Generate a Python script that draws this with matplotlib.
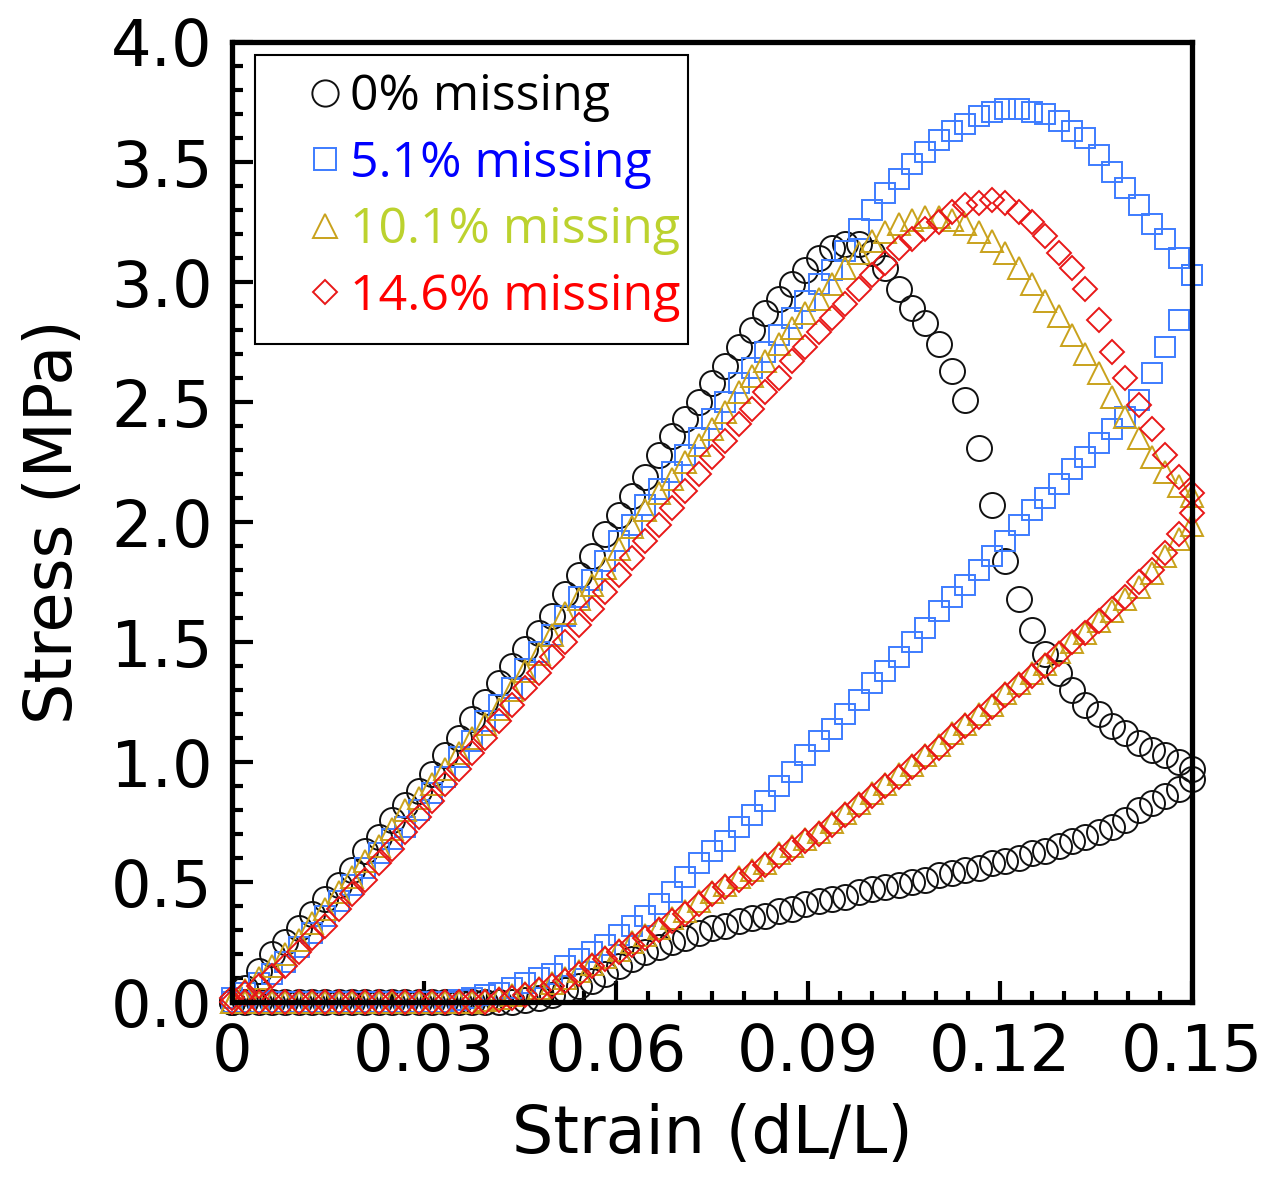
import numpy as np
import matplotlib
matplotlib.use("Agg")
import matplotlib.pyplot as plt
from matplotlib.lines import Line2D
from matplotlib.patches import Rectangle
from matplotlib.ticker import MultipleLocator, FixedLocator

# strain grid (73 samples, 0 -> 0.15) shared by every branch
strain = np.linspace(0, 0.15, 73)

# stress (MPa), loading branch
load_0 = [0.00, 0.06, 0.13, 0.20, 0.25, 0.31, 0.37, 0.43, 0.49, 0.55,
          0.63, 0.69, 0.76, 0.82, 0.88, 0.95, 1.03, 1.10, 1.18, 1.25,
          1.33, 1.40, 1.47, 1.54, 1.61, 1.70, 1.78, 1.86, 1.95, 2.03,
          2.11, 2.19, 2.28, 2.36, 2.43, 2.50, 2.58, 2.65, 2.73, 2.80,
          2.87, 2.93, 2.99, 3.05, 3.10, 3.14, 3.16, 3.16, 3.12, 3.06,
          2.97, 2.89, 2.83, 2.74, 2.63, 2.51, 2.31, 2.07, 1.84, 1.68,
          1.55, 1.45, 1.37, 1.30, 1.24, 1.20, 1.15, 1.12, 1.08, 1.05,
          1.03, 1.00, 0.97]
load_5 = [0.02, 0.04, 0.08, 0.12, 0.17, 0.23, 0.29, 0.36, 0.42, 0.49,
          0.56, 0.62, 0.68, 0.73, 0.80, 0.87, 0.94, 1.02, 1.09, 1.17,
          1.24, 1.31, 1.39, 1.46, 1.53, 1.61, 1.69, 1.76, 1.84, 1.92,
          1.99, 2.07, 2.14, 2.21, 2.28, 2.35, 2.43, 2.50, 2.58, 2.64,
          2.71, 2.78, 2.85, 2.92, 2.99, 3.05, 3.13, 3.22, 3.30, 3.37,
          3.43, 3.49, 3.54, 3.59, 3.63, 3.66, 3.69, 3.71, 3.72, 3.72,
          3.71, 3.70, 3.67, 3.63, 3.60, 3.53, 3.46, 3.39, 3.32, 3.24,
          3.18, 3.10, 3.03]
load_10 = [0.00, 0.05, 0.10, 0.15, 0.20, 0.26, 0.33, 0.39, 0.46, 0.52,
           0.59, 0.65, 0.72, 0.80, 0.85, 0.91, 0.97, 1.04, 1.10, 1.16,
           1.22, 1.30, 1.38, 1.45, 1.53, 1.62, 1.68, 1.74, 1.81, 1.89,
           1.98, 2.05, 2.12, 2.18, 2.25, 2.32, 2.39, 2.46, 2.54, 2.61,
           2.67, 2.74, 2.81, 2.87, 2.93, 2.99, 3.06, 3.12, 3.17, 3.21,
           3.24, 3.26, 3.27, 3.27, 3.26, 3.24, 3.21, 3.17, 3.12, 3.06,
           2.99, 2.92, 2.86, 2.78, 2.70, 2.62, 2.52, 2.44, 2.35, 2.27,
           2.21, 2.15, 2.11]
load_14 = [0.02, 0.04, 0.07, 0.11, 0.15, 0.21, 0.27, 0.32, 0.39, 0.45,
           0.51, 0.58, 0.64, 0.71, 0.77, 0.84, 0.91, 0.97, 1.04, 1.10,
           1.17, 1.24, 1.31, 1.37, 1.44, 1.50, 1.57, 1.64, 1.71, 1.78,
           1.85, 1.92, 1.99, 2.06, 2.13, 2.20, 2.27, 2.34, 2.41, 2.47,
           2.54, 2.60, 2.67, 2.73, 2.79, 2.85, 2.91, 2.97, 3.03, 3.08,
           3.14, 3.18, 3.22, 3.25, 3.29, 3.32, 3.33, 3.34, 3.33, 3.29,
           3.25, 3.19, 3.12, 3.06, 2.97, 2.84, 2.71, 2.60, 2.49, 2.39,
           2.28, 2.19, 2.12]

# stress (MPa), unloading branch, same strain grid (ascending strain)
unload_0 = [0.00, 0.00, 0.00, 0.00, 0.00, 0.00, 0.00, 0.00, 0.00, 0.00,
            0.00, 0.00, 0.00, 0.00, 0.00, 0.00, 0.00, 0.00, 0.00, 0.00,
            0.00, 0.00, 0.01, 0.02, 0.03, 0.05, 0.07, 0.09, 0.12, 0.15,
            0.18, 0.21, 0.23, 0.25, 0.27, 0.29, 0.31, 0.32, 0.34, 0.35,
            0.36, 0.38, 0.39, 0.41, 0.42, 0.43, 0.44, 0.46, 0.47, 0.48,
            0.49, 0.50, 0.51, 0.53, 0.54, 0.55, 0.56, 0.58, 0.59, 0.60,
            0.62, 0.63, 0.65, 0.67, 0.69, 0.71, 0.73, 0.76, 0.80, 0.83,
            0.86, 0.89, 0.93]
unload_5 = [0.00, 0.00, 0.00, 0.00, 0.00, 0.00, 0.00, 0.00, 0.00, 0.00,
            0.00, 0.00, 0.00, 0.00, 0.00, 0.00, 0.00, 0.01, 0.02, 0.03,
            0.04, 0.06, 0.08, 0.10, 0.12, 0.15, 0.18, 0.21, 0.24, 0.28,
            0.32, 0.36, 0.41, 0.46, 0.52, 0.58, 0.63, 0.67, 0.73, 0.78,
            0.84, 0.90, 0.96, 1.03, 1.09, 1.14, 1.20, 1.26, 1.33, 1.38,
            1.44, 1.50, 1.56, 1.63, 1.69, 1.74, 1.80, 1.86, 1.92, 1.99,
            2.05, 2.10, 2.16, 2.22, 2.27, 2.33, 2.39, 2.44, 2.51, 2.62,
            2.73, 2.84, 3.03]
unload_10 = [0.00, 0.00, 0.00, 0.00, 0.00, 0.00, 0.00, 0.00, 0.00, 0.00,
             0.00, 0.00, 0.00, 0.00, 0.00, 0.00, 0.00, 0.00, 0.00, 0.01,
             0.02, 0.03, 0.04, 0.06, 0.08, 0.10, 0.13, 0.16, 0.19, 0.22,
             0.25, 0.28, 0.31, 0.35, 0.38, 0.42, 0.46, 0.49, 0.52, 0.55,
             0.58, 0.62, 0.65, 0.68, 0.71, 0.75, 0.79, 0.83, 0.87, 0.91,
             0.95, 0.99, 1.03, 1.07, 1.12, 1.16, 1.20, 1.24, 1.29, 1.33,
             1.37, 1.41, 1.46, 1.50, 1.54, 1.59, 1.63, 1.68, 1.73, 1.79,
             1.86, 1.93, 1.99]
unload_14 = [0.00, 0.00, 0.00, 0.00, 0.00, 0.00, 0.00, 0.00, 0.00, 0.00,
             0.00, 0.00, 0.00, 0.00, 0.00, 0.00, 0.00, 0.00, 0.00, 0.00,
             0.01, 0.02, 0.03, 0.05, 0.07, 0.09, 0.12, 0.15, 0.18, 0.21,
             0.24, 0.27, 0.30, 0.34, 0.37, 0.41, 0.45, 0.48, 0.51, 0.54,
             0.57, 0.61, 0.64, 0.67, 0.70, 0.74, 0.78, 0.82, 0.86, 0.90,
             0.94, 0.98, 1.02, 1.06, 1.11, 1.15, 1.19, 1.23, 1.28, 1.32,
             1.36, 1.40, 1.45, 1.50, 1.54, 1.59, 1.64, 1.69, 1.75, 1.80,
             1.87, 1.95, 2.04]

labels = ["0% missing", "5.1% missing", "10.1% missing", "14.6% missing"]
markers = ["o", "s", "^", "D"]
msizes = [18, 15, 16, 12]
mcolors = ["#111111", "#3d7cff", "#c9a21c", "#e81818"]
tcolors = ["#000000", "#0000ff", "#bcd22e", "#ff0000"]

fig = plt.figure(figsize=(12.68, 11.82), dpi=100)
ax = fig.add_axes([0.183, 0.152, 0.757, 0.8125])

series = [(load_0, unload_0), (load_5, unload_5),
          (load_10, unload_10), (load_14, unload_14)]
for (ld, ul), m, ms, c in zip(series, markers, msizes, mcolors):
    for y in (ld, ul):
        ax.plot(strain, y, linestyle="none", marker=m, markersize=ms,
                markerfacecolor="none", markeredgecolor=c,
                markeredgewidth=1.4, clip_on=False)

ax.set_xlim(0, 0.15)
ax.set_ylim(0, 4.0)
ax.xaxis.set_major_locator(FixedLocator([0, 0.03, 0.06, 0.09, 0.12, 0.15]))
ax.set_xticklabels(["0", "0.03", "0.06", "0.09", "0.12", "0.15"])
ax.xaxis.set_minor_locator(MultipleLocator(0.005))
ax.yaxis.set_major_locator(MultipleLocator(0.5))
ax.yaxis.set_minor_locator(MultipleLocator(0.1))
ax.yaxis.set_major_formatter(matplotlib.ticker.FormatStrFormatter("%.1f"))

ax.tick_params(which="both", direction="in", width=3, top=False, right=False,
               labelsize=46, colors="black")
ax.tick_params(which="major", length=15, pad=14)
ax.tick_params(which="minor", length=8)
for sp in ax.spines.values():
    sp.set_linewidth(3.8)

ax.set_xlabel("Strain (dL/L)", fontsize=47, labelpad=14)
ax.set_ylabel("Stress (MPa)", fontsize=47, labelpad=18)

# legend box drawn separately so its padding can match the original
ax.add_patch(Rectangle((0.024, 0.686), 0.451, 0.300, transform=ax.transAxes,
                       facecolor="white", edgecolor="black", linewidth=1.5,
                       zorder=4))
handles = [Line2D([], [], linestyle="none", marker=m, markersize=ms * 1.05,
                  markerfacecolor="none", markeredgecolor=c, markeredgewidth=1.4)
           for m, ms, c in zip(markers, msizes, mcolors)]
leg = ax.legend(handles, labels, loc="upper left", bbox_to_anchor=(0.081, 0.968),
                prop={"family": "Open Sans", "size": 36}, frameon=False,
                handlelength=0.6, handletextpad=0.2, labelspacing=0.34,
                borderpad=0, borderaxespad=0)
leg.set_zorder(5)
for t, c in zip(leg.get_texts(), tcolors):
    t.set_color(c)

fig.savefig("out.png", dpi=100)
